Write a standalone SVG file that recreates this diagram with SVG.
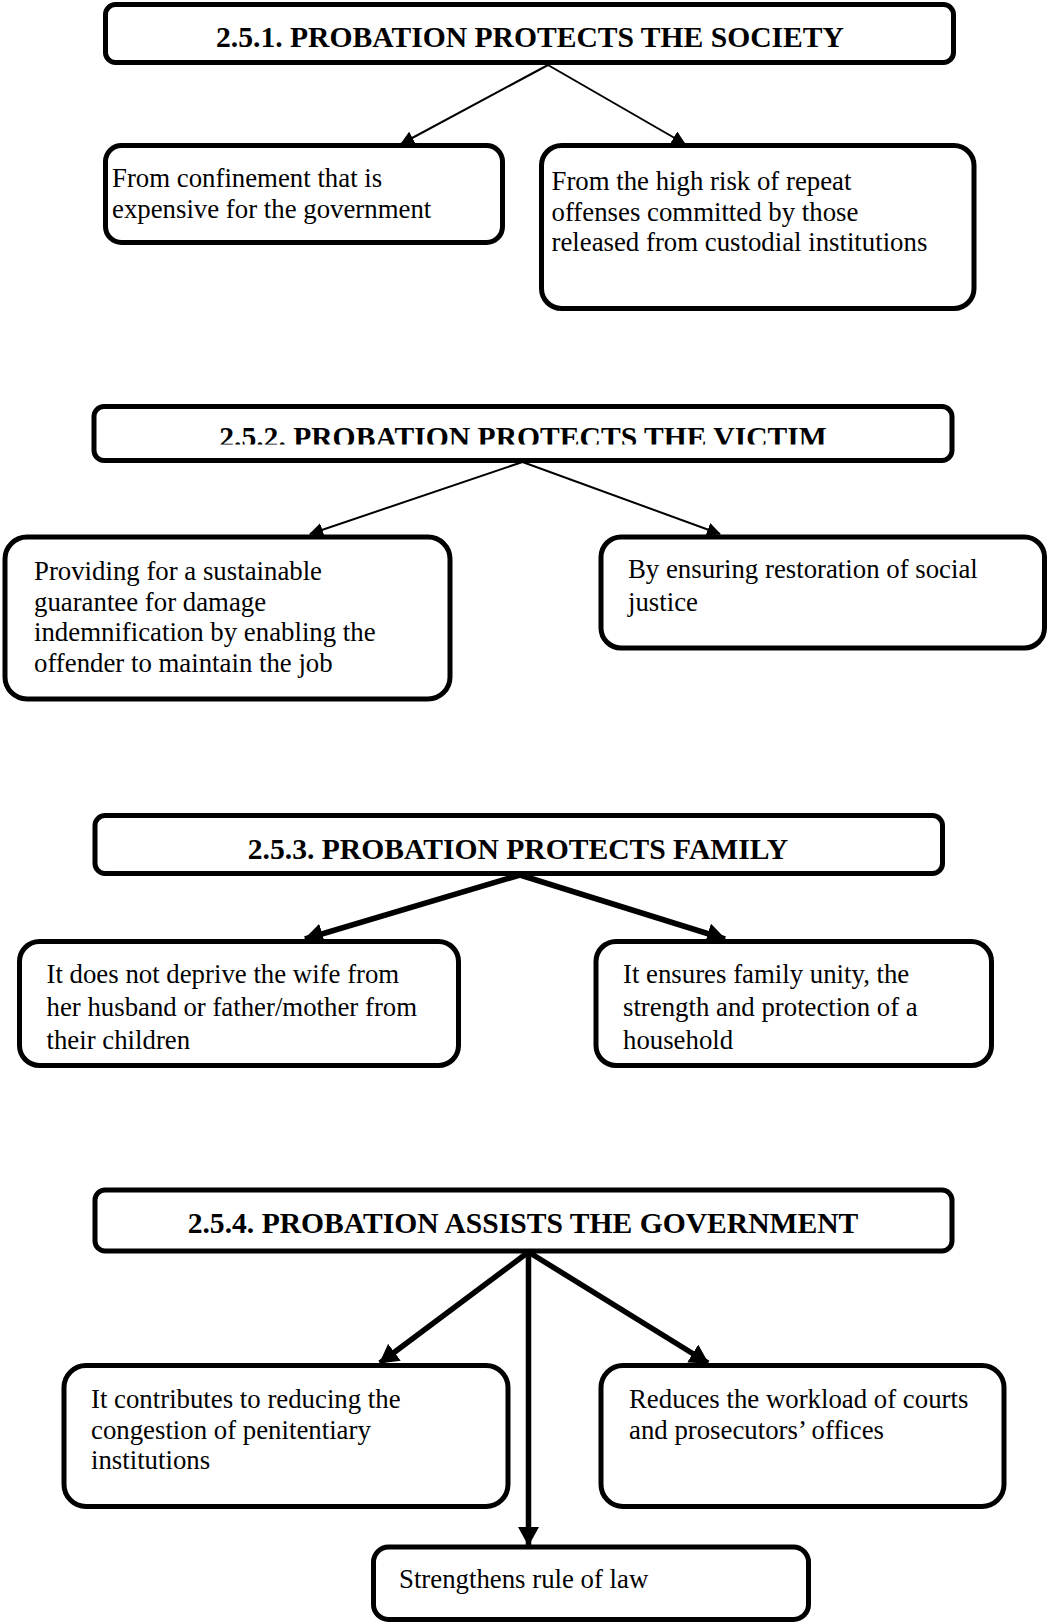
<svg xmlns="http://www.w3.org/2000/svg" width="1047" height="1623" viewBox="0 0 1047 1623">
<style>
.box{fill:#fff;stroke:#000;stroke-width:5}
.title{font-family:"Liberation Serif","Times New Roman",serif;font-weight:bold;font-size:29.6px;fill:#000;text-anchor:middle}
.t{font-family:"Liberation Serif","Times New Roman",serif;font-size:26.8px;fill:#000}
.thin{fill:none;stroke:#000;stroke-width:2}
.thick{fill:none;stroke:#000;stroke-width:5.5}
</style>
<defs>
<marker id="ahs" markerUnits="userSpaceOnUse" markerWidth="14" markerHeight="14" viewBox="0 0 14 14" refX="13" refY="7" orient="auto"><path d="M0,0 L14,7 L0,14 z" fill="#000"/></marker>
<marker id="ahb" markerUnits="userSpaceOnUse" markerWidth="19" markerHeight="21" viewBox="0 0 19 21" refX="18" refY="10.5" orient="auto"><path d="M0,0 L19,10.5 L0,21 z" fill="#000"/></marker>
<clipPath id="clip2"><rect x="0" y="400" width="1047" height="44.5"/></clipPath>
</defs>
<rect width="1047" height="1623" fill="#fff"/>
<g id="connectors">
<line class="thin" x1="548" y1="65" x2="401" y2="144" marker-end="url(#ahs)"/>
<line class="thin" x1="548" y1="65" x2="685" y2="144" marker-end="url(#ahs)"/>
<line class="thin" x1="522.5" y1="462" x2="310" y2="534" marker-end="url(#ahs)"/>
<line class="thin" x1="522.5" y1="462" x2="720" y2="534" marker-end="url(#ahs)"/>
<line class="thick" x1="520" y1="875" x2="305" y2="939" marker-end="url(#ahb)"/>
<line class="thick" x1="520" y1="875" x2="725" y2="939" marker-end="url(#ahb)"/>
<line class="thick" x1="528.5" y1="1252" x2="380" y2="1363" marker-end="url(#ahb)"/>
<line class="thick" x1="528.5" y1="1252" x2="708" y2="1363" marker-end="url(#ahb)"/>
<line class="thick" x1="528.5" y1="1252" x2="528.5" y2="1545" marker-end="url(#ahb)"/>
</g>
<g id="n251">
<rect class="box" x="105.5" y="4.5" width="848" height="58" rx="10"/>
<text class="title" x="530" y="46.5">2.5.1. PROBATION PROTECTS THE SOCIETY</text>
</g>
<g id="n251a">
<rect class="box" x="105.5" y="145.5" width="397" height="97" rx="16"/>
<text class="t" x="112" y="187">From confinement that is</text>
<text class="t" x="112" y="217.5">expensive for the government</text>
</g>
<g id="n251b">
<rect class="box" x="541.5" y="145.5" width="432.5" height="163" rx="20"/>
<text class="t" x="551.5" y="190">From the high risk of repeat</text>
<text class="t" x="551.5" y="220.5">offenses committed by those</text>
<text class="t" x="551.5" y="251">released from custodial institutions</text>
</g>
<g id="n252">
<rect class="box" x="94" y="406.5" width="858" height="54" rx="10"/>
<text class="title" x="523" y="447" clip-path="url(#clip2)">2.5.2. PROBATION PROTECTS THE VICTIM</text>
</g>
<g id="n252a">
<rect class="box" x="5" y="537" width="445" height="162" rx="22"/>
<text class="t" x="34" y="580">Providing for a sustainable</text>
<text class="t" x="34" y="610.5">guarantee for damage</text>
<text class="t" x="34" y="641">indemnification by enabling the</text>
<text class="t" x="34" y="671.5">offender to maintain the job</text>
</g>
<g id="n252b">
<rect class="box" x="601" y="537" width="443.5" height="111" rx="20"/>
<text class="t" x="628" y="578">By ensuring restoration of social</text>
<text class="t" x="628" y="611">justice</text>
</g>
<g id="n253">
<rect class="box" x="95" y="815.5" width="847.5" height="58" rx="10"/>
<text class="title" x="518" y="858.5">2.5.3. PROBATION PROTECTS FAMILY</text>
</g>
<g id="n253a">
<rect class="box" x="19.5" y="941.5" width="439" height="124" rx="20"/>
<text class="t" x="46.5" y="983">It does not deprive the wife from</text>
<text class="t" x="46.5" y="1016">her husband or father/mother from</text>
<text class="t" x="46.5" y="1049">their children</text>
</g>
<g id="n253b">
<rect class="box" x="596" y="941.5" width="395.5" height="124" rx="20"/>
<text class="t" x="623" y="983">It ensures family unity, the</text>
<text class="t" x="623" y="1016">strength and protection of a</text>
<text class="t" x="623" y="1049">household</text>
</g>
<g id="n254">
<rect class="box" x="95" y="1190" width="857" height="61" rx="10"/>
<text class="title" x="523" y="1233">2.5.4. PROBATION ASSISTS THE GOVERNMENT</text>
</g>
<g id="n254a">
<rect class="box" x="64" y="1365.5" width="444" height="141" rx="22"/>
<text class="t" x="91" y="1408">It contributes to reducing the</text>
<text class="t" x="91" y="1438.5">congestion of penitentiary</text>
<text class="t" x="91" y="1469">institutions</text>
</g>
<g id="n254b">
<rect class="box" x="601" y="1365.5" width="403" height="141" rx="22"/>
<text class="t" x="629" y="1408">Reduces the workload of courts</text>
<text class="t" x="629" y="1439">and prosecutors’ offices</text>
</g>
<g id="n254c">
<rect class="box" x="373.5" y="1547" width="435" height="72.5" rx="15"/>
<text class="t" x="399" y="1588">Strengthens rule of law</text>
</g>
</svg>
